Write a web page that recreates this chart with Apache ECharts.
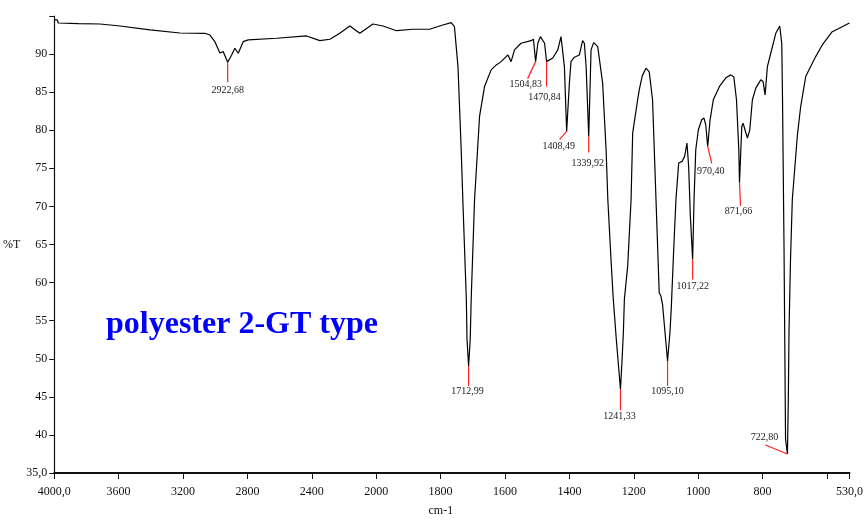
<!DOCTYPE html>
<html><head><meta charset="utf-8">
<script src="https://cdn.jsdelivr.net/npm/echarts@6/dist/echarts.min.js"></script>
<style>html,body{margin:0;padding:0;background:#fff}#c{width:866px;height:522px}</style>
</head><body><div id="c"></div>
<script>
// ---- data (wavenumber in cm-1, transmittance in %T) ----
const wavenumbers = [
 4000,3981,3975,3850,3715,3591,3405,3219,3064,3033,3002,2971,2950,2922.68,2898,2878,2857,2826,2795,2619,
 2433,2350,2288,2226,2164,2102,2020,1979,1937,1886,1834,1793,1767,1757,1746,1736,1731,1720,1718,1712.99,
 1708,1705,1694.5,1679,1663.5,1643,1627,1612,1591,1581,1570.5,1550,1519,1511.6,1504.83,1498,1490,1477,1470.84,1462,
 1452,1436,1426,1421,1415.5,1408.49,1400,1395,1384.5,1369,1359,1353.5,1348,1339.92,1332.7,1324.6,1312,1296.7,1286,1280.6,
 1269.7,1263.6,1254.3,1246.5,1241.33,1236.3,1232.3,1229.2,1218.9,1208.4,1203.4,1188,1183,1173.7,1162,1152,1141.7,1131,1121,1115.6,
 1110.7,1103,1095.10,1087.6,1083.7,1076,1069,1060.5,1050,1042,1034.8,1029.6,1024.3,1017.22,1012.8,1007.5,999.4,989,982,976.5,
 970.40,963,953,932.7,914,898.6,889.3,881,873.8,871.66,864.5,860.5,852,847,839.7,831.6,821,805.6,798.4,792.2,
 785,774.5,759,746.6,740.4,738,733.3,728.6,722.80,720,717.8,713.2,707.6,692,681.6,666,650.6,635,614.6,583.6,
 552.6,531.8,530
];
const transmittance = [
 94.48,94.48,94.08,94.0,93.95,93.69,93.17,92.77,92.73,92.5,91.63,90.15,90.32,88.93,89.89,90.77,90.11,91.63,91.86,92.08,
 92.38,91.76,91.95,92.73,93.69,92.73,93.95,93.69,93.07,93.26,93.26,93.82,94.12,93.6,88.36,77.44,70.9,57.79,52.55,49.05,
 52.55,57.79,70.9,81.81,85.74,87.93,88.58,89.01,89.89,89.01,90.55,91.42,91.76,91.95,89.01,91.42,92.29,91.42,89.01,89.24,
 89.46,90.55,92.29,92.08,88.36,79.84,86.18,89.01,89.59,89.89,91.76,91.42,88.36,79.19,90.55,91.5,90.98,86.18,77.44,70.9,
 62.25,57.79,52.55,48.62,46.0,49.93,53.47,57.79,62.16,70.9,79.63,84.0,85.31,87.14,88.15,87.66,84.0,70.9,58.67,58.2,
 57.14,53.47,49.71,53.47,56.48,64.34,70.9,75.7,75.91,76.57,78.32,75.26,68.71,63.03,70.9,77.44,80.06,81.37,81.6,80.72,
 77.88,81.37,84.0,85.83,86.88,87.27,87.0,84.0,77.44,73.12,80.5,80.94,79.67,78.98,80.06,84.0,85.53,86.62,86.39,84.65,
 88.36,90.11,92.73,93.69,91.42,84.0,64.34,39.45,37.49,44.69,53.86,63.03,70.9,79.28,83.12,87.05,88.36,89.67,91.2,92.94,
 93.6,94.04,94.1
];
const peakWavenumbers = [2922.68,1712.99,1504.83,1470.84,1408.49,1339.92,1241.33,1095.10,1017.22,970.40,871.66,722.80];
const peakTransmittance = [88.93,49.05,89.01,89.01,79.84,79.19,46.0,49.71,63.03,77.88,73.12,37.49];
const peakLabels = ['2922,68','1712,99','1504,83','1470,84','1408,49','1339,92','1241,33','1095,10','1017,22','970,40','871,66','722,80'];
const xTickValues = [4000,3600,3200,2800,2400,2000,1800,1600,1400,1200,1000,800,600,530];
const xTickLabels = ['4000,0','3600','3200','2800','2400','2000','1800','1600','1400','1200','1000','800','','530,0'];
const yTickValues = [35,40,45,50,55,60,65,70,75,80,85,90,95];
const yTickLabels = ['35,0','40','45','50','55','60','65','70','75','80','85','90',''];
const chartTitle = 'polyester 2-GT type';

// ---- layout (leader line end / label centre offsets in px, per peak) ----
const leaderLayout = [
 {lx:0,ly:20,tx:0,ty:28},
 {lx:0,ly:20,tx:-1,ty:25},
 {lx:-8,ly:17,tx:-10,ty:23},
 {lx:0,ly:25,tx:-2,ty:36},
 {lx:-7,ly:8,tx:-8,ty:15},
 {lx:0,ly:16,tx:-1,ty:27},
 {lx:0,ly:21,tx:-1,ty:27},
 {lx:0,ly:25,tx:0,ty:30},
 {lx:0,ly:20,tx:0,ty:27},
 {lx:4,ly:17,tx:3,ty:25},
 {lx:1,ly:23,tx:-1,ty:29},
 {lx:-22,ly:-9,tx:-23,ty:-17}
];

// IR spectrometer scale: 400 cm-1 per division above 2000, 200 cm-1 per division below
function toAxis(w){ return w >= 2000 ? (4000 - w) / 400 : 5 + (2000 - w) / 200; }
function fromAxis(u){ return u <= 5 ? 4000 - 400 * u : 2000 - 200 * (u - 5); }

const lineData = wavenumbers.map((w, i) => [toAxis(w), transmittance[i]]);
const peakData = peakWavenumbers.map((w, i) => [toAxis(w), peakTransmittance[i], i]);

const serif = '"Liberation Serif","Times New Roman",serif';
const chart = echarts.init(document.getElementById('c'), null, {renderer:'canvas'});
chart.setOption({
  animation:false,
  backgroundColor:'#fff',
  grid:{left:54, right:15, top:16, bottom:48, containLabel:false},
  xAxis:{
    type:'value', min:0, max:toAxis(530), interval:1,
    name:'cm-1', nameLocation:'middle', nameGap:32,
    nameTextStyle:{fontFamily:serif, fontSize:12, color:'#111', padding:[0,22,0,0]},
    axisLine:{show:true, lineStyle:{color:'#111', width:2}},
    axisTick:{show:true, inside:false, length:6, lineStyle:{color:'#111', width:1}},
    axisLabel:{fontFamily:serif, fontSize:12, color:'#111', margin:13,
      formatter:function(v){
        const w = fromAxis(v);
        for (let i=0;i<xTickValues.length;i++){ if (Math.abs(xTickValues[i]-w) < 0.5) return xTickLabels[i]; }
        return '';
      }},
    splitLine:{show:false}
  },
  yAxis:{
    type:'value', min:35, max:95, interval:5,
    name:'%T', nameLocation:'middle', nameRotate:0, nameGap:22,
    nameTextStyle:{fontFamily:serif, fontSize:12, color:'#111'},
    axisLine:{show:true, lineStyle:{color:'#111', width:1.2}},
    axisTick:{show:true, inside:false, length:5, lineStyle:{color:'#111', width:1}},
    axisLabel:{fontFamily:serif, fontSize:12, color:'#111', margin:7,
      formatter:function(v){
        const i = yTickValues.indexOf(Math.round(v));
        return i >= 0 ? yTickLabels[i] : '';
      }},
    splitLine:{show:false}
  },
  graphic:[{
    type:'text', left:106, top:309,
    style:{text:chartTitle, fill:'#0000ff', font:'bold 32px ' + serif}
  }],
  series:[
    {
      type:'line', data:lineData, showSymbol:false, symbol:'none',
      lineStyle:{color:'#000', width:1.2}, silent:true, z:2
    },
    {
      type:'custom', data:peakData, z:3, silent:true,
      renderItem:function(params, api){
        const p = api.coord([api.value(0), api.value(1)]);
        const L = leaderLayout[api.value(2)];
        return {type:'group', children:[
          {type:'line', shape:{x1:p[0], y1:p[1], x2:p[0]+L.lx, y2:p[1]+L.ly},
           style:{stroke:'#ff2020', lineWidth:1.2}},
          {type:'text', x:p[0]+L.tx, y:p[1]+L.ty,
           style:{text:peakLabels[api.value(2)], fill:'#222', font:'10px ' + serif, align:'center', verticalAlign:'middle'}}
        ]};
      }
    }
  ]
});
</script></body></html>
